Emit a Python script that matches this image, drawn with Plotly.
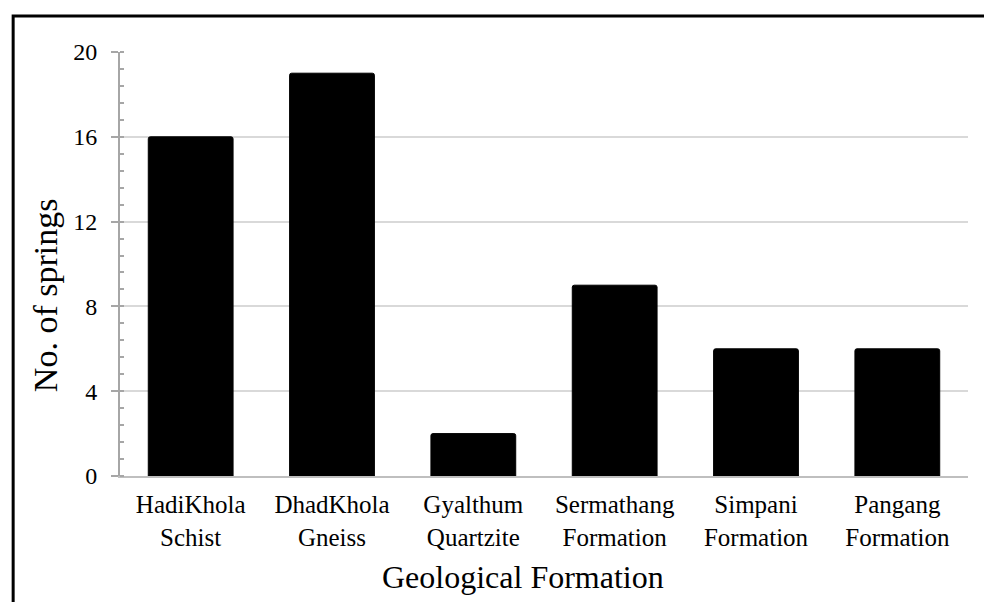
import plotly.graph_objects as go

categories = ["HadiKhola<br>Schist", "DhadKhola<br>Gneiss", "Gyalthum<br>Quartzite",
              "Sermathang<br>Formation", "Simpani<br>Formation", "Pangang<br>Formation"]
springs = [16, 19, 2, 9, 6, 6]
y_ticks = [0, 4, 8, 12, 16, 20]
x_title = "Geological Formation"
y_title = "No. of springs"

FONT = "Liberation Serif, Times New Roman, serif"

fig = go.Figure(go.Bar(
    x=categories, y=springs,
    marker=dict(color="black", line=dict(color="black", width=1), cornerradius=2),
    width=0.6,
))

# page body has an 8px default margin, so offsets are compensated here
fig.update_layout(
    width=992, height=602,
    margin=dict(l=112, r=32, t=44, b=134, autoexpand=False),
    plot_bgcolor="white", paper_bgcolor="white",
    font=dict(family=FONT, color="black"),
    showlegend=False,
    xaxis=dict(
        tickfont=dict(size=25, family=FONT),
        showline=True, linecolor="#bfbfbf", linewidth=2,
        ticks="", showgrid=False, automargin=False,
        ticklabelstandoff=5,
    ),
    yaxis=dict(
        range=[0, 20], tickvals=y_ticks, ticktext=[str(v) for v in y_ticks],
        tickfont=dict(size=24, family=FONT),
        showline=True, linecolor="#a6a6a6", linewidth=2,
        ticks="outside", ticklen=7, tickcolor="#a6a6a6", tickwidth=2,
        showgrid=True, gridcolor="#d9d9d9", gridwidth=2,
        zeroline=False, automargin=False,
        minor=dict(dtick=0.8, ticks="inside", ticklen=4, tickcolor="#a6a6a6", tickwidth=2, showgrid=False),
        ticklabelstandoff=9,
    ),
    annotations=[
        dict(text=x_title, xref="paper", yref="paper", x=0.4752, y=-0.238,
             xanchor="center", yanchor="middle", showarrow=False,
             font=dict(size=32, family=FONT, color="black")),
        dict(text=y_title, xref="paper", yref="paper", x=-0.087, y=0.427,
             xanchor="center", yanchor="middle", showarrow=False, textangle=-90,
             font=dict(size=34, family=FONT, color="black")),
    ],
    shapes=[dict(type="rect", xref="paper", yref="paper",
                 x0=-0.126, x1=1.2, y0=-0.6, y1=1.085,
                 line=dict(color="black", width=3), fillcolor="rgba(0,0,0,0)", layer="above")],
)

fig.write_html("out.html")
